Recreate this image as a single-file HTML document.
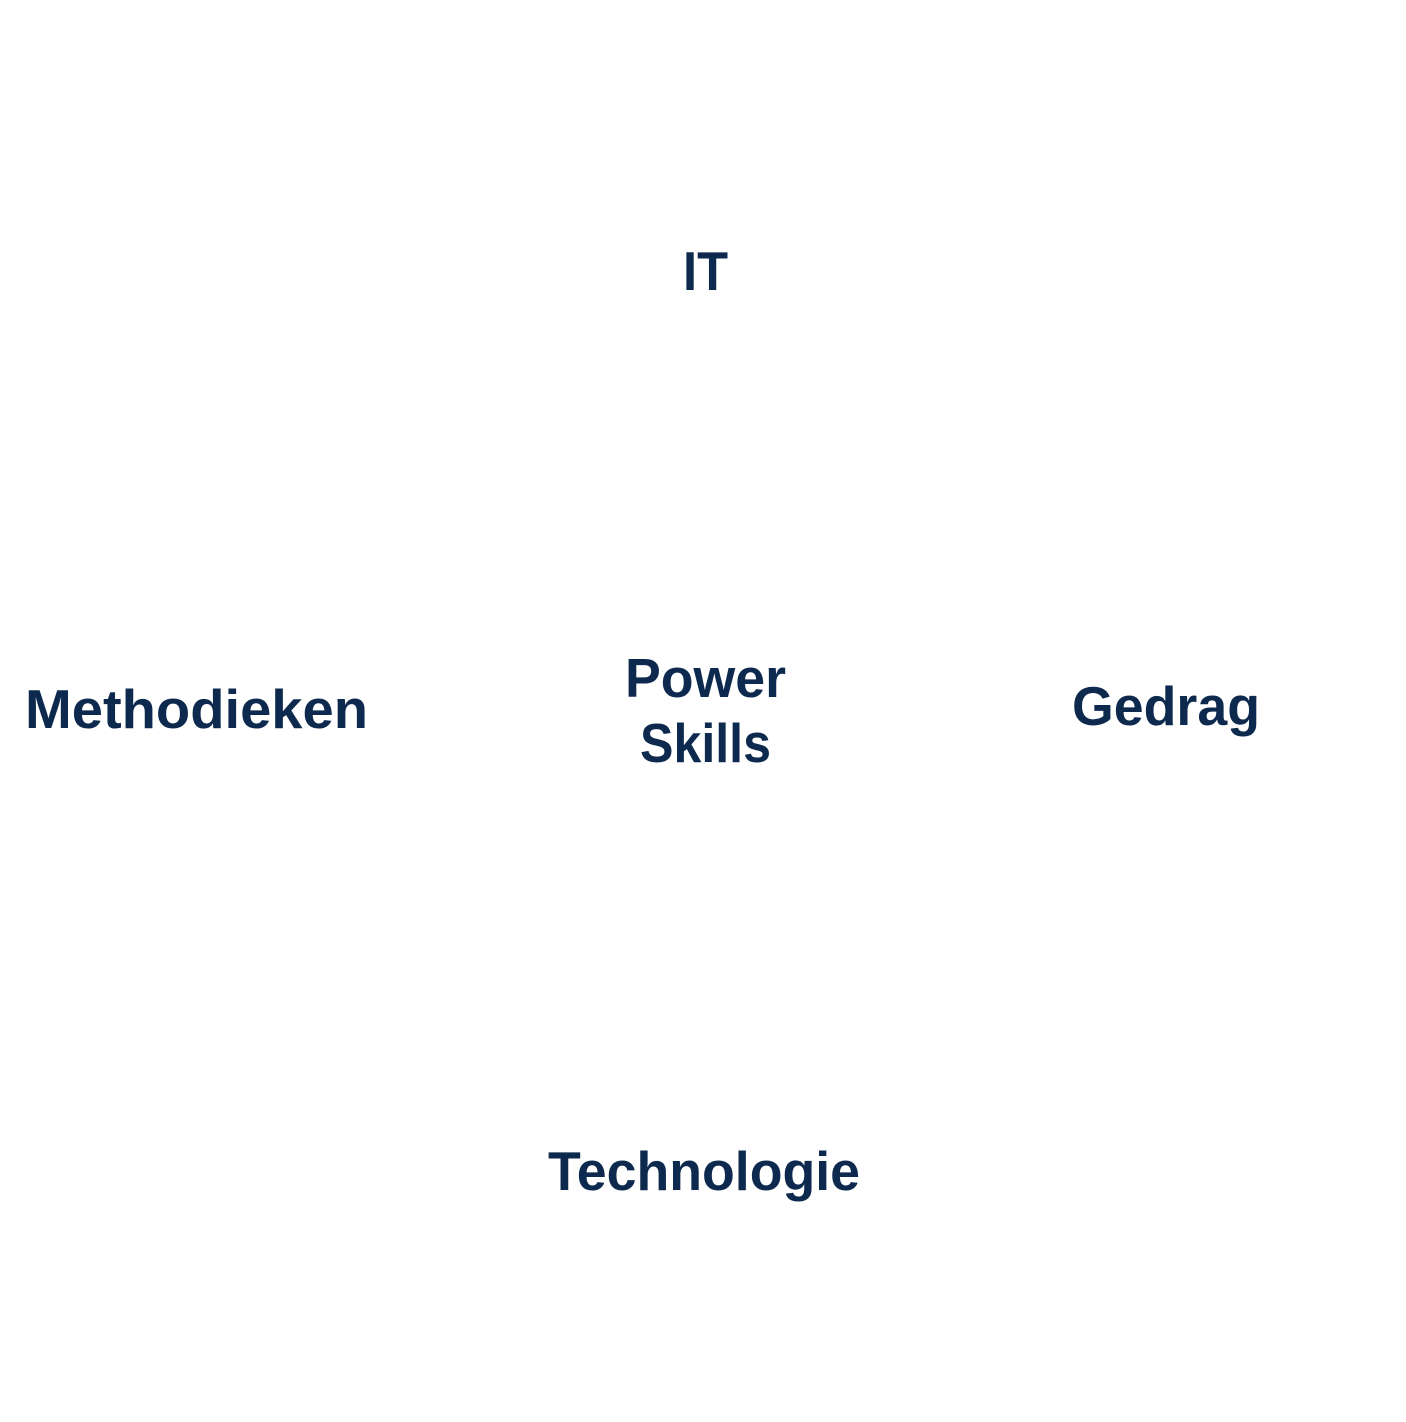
<!DOCTYPE html>
<html><head><meta charset="utf-8"><style>
html,body{margin:0;padding:0;background:#fff;width:1406px;height:1422px;overflow:hidden}
svg text{font-family:"Liberation Sans",sans-serif;font-weight:bold;font-size:55px;fill:#0d2a4e}
</style></head><body>
<svg width="1406" height="1422" xmlns="http://www.w3.org/2000/svg">
<text x="683" y="290" textLength="45" lengthAdjust="spacingAndGlyphs">IT</text>
<text x="25" y="728" textLength="343" lengthAdjust="spacingAndGlyphs">Methodieken</text>
<text x="1072" y="725" textLength="188" lengthAdjust="spacingAndGlyphs">Gedrag</text>
<text x="625" y="697" textLength="161" lengthAdjust="spacingAndGlyphs">Power</text>
<text x="640" y="762" textLength="131" lengthAdjust="spacingAndGlyphs">Skills</text>
<text x="548" y="1190" textLength="312" lengthAdjust="spacingAndGlyphs">Technologie</text>
</svg>
</body></html>
